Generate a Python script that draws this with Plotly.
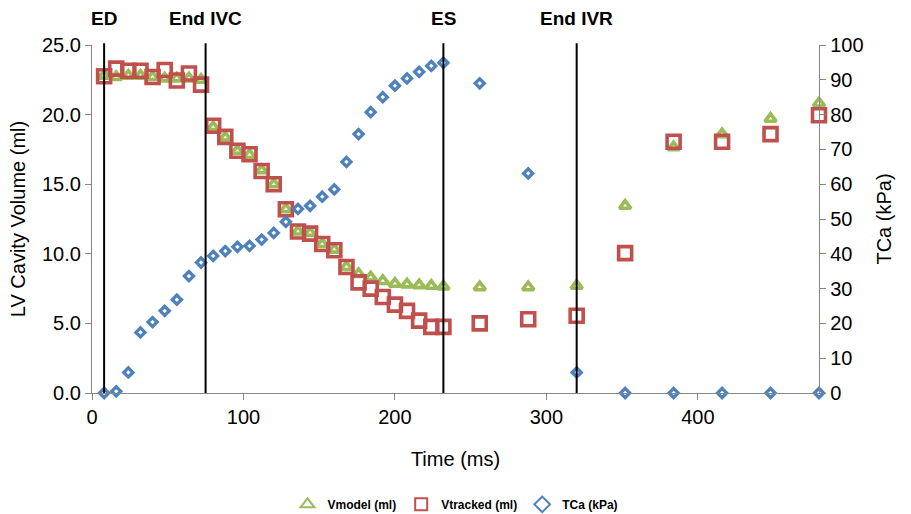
import plotly.graph_objects as go

# Time samples (ms)
time_ms = [8, 16, 24, 32, 40, 48, 56, 64, 72, 80, 88, 96, 104, 112, 120, 128, 136, 144,
           152, 160, 168, 176, 184, 192, 200, 208, 216, 224, 232, 256, 288, 320, 352,
           384, 416, 448, 480]

# LV cavity volume from the model (ml)
v_model = [22.8, 22.7, 22.8, 22.8, 22.7, 22.6, 22.6, 22.6, 22.5, 19.1, 18.35, 17.4, 17.1,
           16.0, 15.0, 13.2, 11.6, 11.5, 10.7, 10.3, 9.05, 8.55, 8.3, 8.05, 7.85, 7.8,
           7.75, 7.7, 7.65, 7.6, 7.6, 7.7, 13.45, 17.65, 18.6, 19.7, 20.8]

# LV cavity volume from tracking (ml)
v_tracked = [22.75, 23.3, 23.15, 23.15, 22.7, 23.2, 22.45, 22.95, 22.15, 19.2, 18.4, 17.4,
             17.15, 15.95, 15.0, 13.2, 11.6, 11.45, 10.7, 10.25, 9.05, 7.95, 7.5, 6.9,
             6.35, 5.9, 5.2, 4.75, 4.75, 5.0, 5.3, 5.55, 10.05, 18.05, 18.05, 18.6, 19.95]

# Active tension TCa (kPa)
tca = [0, 0.5, 5.9, 17.4, 20.4, 23.6, 26.8, 33.6, 37.5, 39.4, 40.8, 42.0, 42.3, 44.1, 46.0,
       49.2, 52.9, 53.8, 56.4, 58.5, 66.4, 74.4, 80.7, 85.0, 88.3, 90.4, 92.3, 94.0, 94.9,
       89.0, 63.1, 5.9, 0, 0, 0, 0, 0]

# Cardiac cycle events (ms)
event_names = ["ED", "End IVC", "ES", "End IVR"]
event_times = [8, 75, 232, 320]

GREEN = "#9BBB59"
RED = "#C0504D"
BLUE = "#4F81BD"
AXIS = "#868686"
FONT = "Arial, Liberation Sans, sans-serif"

fig = go.Figure()

fig.add_trace(go.Scatter(
    x=time_ms, y=v_model, name="Vmodel (ml)", mode="markers", cliponaxis=False,
    marker=dict(symbol="triangle-up-open", size=10, color=GREEN, line=dict(width=3.6, color=GREEN)),
))
fig.add_trace(go.Scatter(
    x=time_ms, y=v_tracked, name="Vtracked (ml)", mode="markers", cliponaxis=False,
    marker=dict(symbol="square-open", size=13, color=RED, line=dict(width=3.6, color=RED)),
))
fig.add_trace(go.Scatter(
    x=time_ms, y=tca, name="TCa (kPa)", mode="markers", yaxis="y2", cliponaxis=False,
    marker=dict(symbol="diamond-open", size=7, color=BLUE, line=dict(width=3.3, color=BLUE)),
))

shapes = []
annotations = []
for name, t in zip(event_names, event_times):
    shapes.append(dict(type="line", xref="x", yref="paper", x0=t, x1=t, y0=0, y1=1.005,
                       line=dict(color="black", width=2)))
    annotations.append(dict(x=t, y=1.075, xref="x", yref="paper", text="<b>%s</b>" % name,
                            showarrow=False, xanchor="center", yanchor="middle",
                            font=dict(family=FONT, size=19, color="black")))

fig.update_layout(
    width=911, height=514,
    margin=dict(l=92, r=92, t=45, b=121, autoexpand=False),
    paper_bgcolor="white", plot_bgcolor="white",
    font=dict(family=FONT, size=20, color="black"),
    shapes=shapes, annotations=annotations,
    showlegend=True,
    legend=dict(orientation="h", x=0.5, xanchor="center", y=-0.32, yanchor="middle",
                font=dict(family=FONT, size=12, color="black", weight="bold"),
                bgcolor="rgba(0,0,0,0)", itemsizing="constant"),
    xaxis=dict(range=[0, 480], dtick=100, tick0=0, showgrid=False, zeroline=False,
               showline=True, linecolor=AXIS, linewidth=1.3, ticks="outside",
               tickcolor=AXIS, ticklen=6, tickfont=dict(size=20),
               title=dict(text="Time (ms)", font=dict(size=20), standoff=24)),
    yaxis=dict(range=[0, 25], dtick=5, tick0=0, tickformat=".1f", showgrid=False,
               zeroline=False, showline=True, linecolor=AXIS, linewidth=1.3,
               ticks="outside", tickcolor=AXIS, ticklen=6, tickfont=dict(size=20),
               title=dict(text="LV Cavity Volume (ml)", font=dict(size=20), standoff=10)),
    yaxis2=dict(range=[0, 100], dtick=10, tick0=0, overlaying="y", side="right",
                showgrid=False, zeroline=False, showline=True, linecolor=AXIS,
                linewidth=1.3, ticks="outside", tickcolor=AXIS, ticklen=6,
                tickfont=dict(size=20),
                title=dict(text="TCa (kPa)", font=dict(size=20), standoff=14)),
)

fig.write_html("out.html")
